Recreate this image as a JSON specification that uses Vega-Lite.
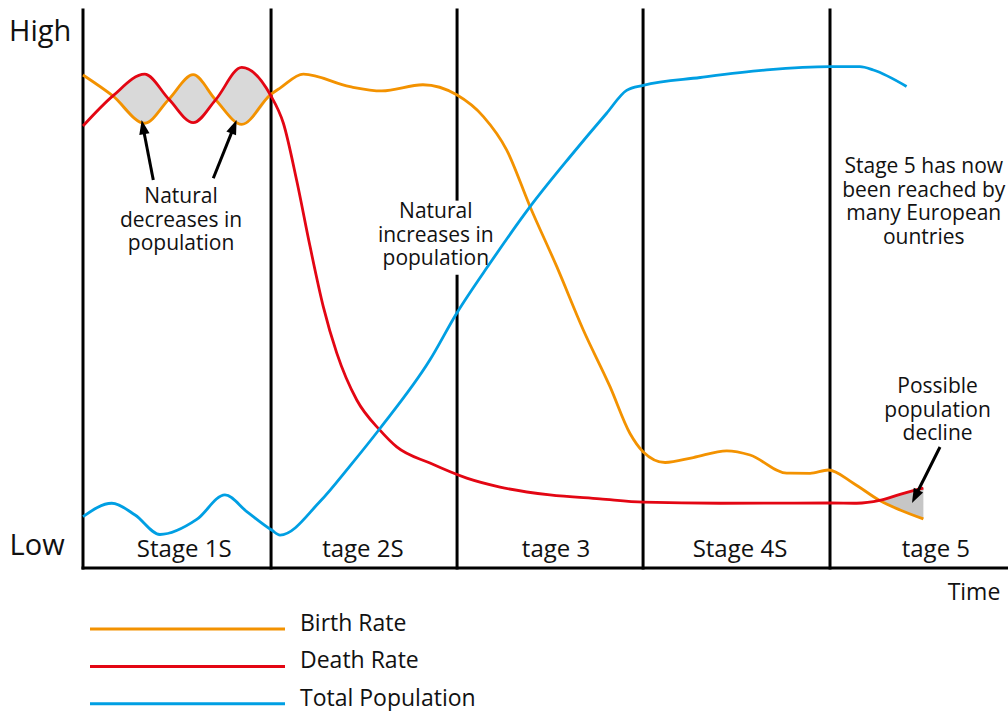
{
  "$schema": "https://vega.github.io/schema/vega-lite/v6.json",
  "width": 1008,
  "height": 711,
  "padding": 0,
  "autosize": {"type": "none"},
  "background": "white",
  "config": {
    "view": {"stroke": null},
    "text": {"font": "Open Sans", "color": "#111111"},
    "legend": {
      "orient": "none",
      "legendX": 176,
      "legendY": 612.5,
      "padding": 0,
      "title": null,
      "symbolType": "M-9.75,0.5H9.75",
      "symbolSize": 400,
      "symbolStrokeWidth": 3,
      "labelFont": "Open Sans",
      "labelFontSize": 23,
      "labelColor": "#111111",
      "labelOffset": 101,
      "rowPadding": 13.4,
      "labelLimit": 400
    }
  },
  "datasets": {
    "curves": [
      {"series": "Birth Rate", "t": 0, "level": 88.35},
      {"series": "Birth Rate", "t": 16, "level": 84.6},
      {"series": "Birth Rate", "t": 33, "level": 79.7},
      {"series": "Birth Rate", "t": 46, "level": 84.0},
      {"series": "Birth Rate", "t": 59, "level": 88.4},
      {"series": "Birth Rate", "t": 71, "level": 83.9},
      {"series": "Birth Rate", "t": 85, "level": 79.5},
      {"series": "Birth Rate", "t": 100.3, "level": 84.8},
      {"series": "Birth Rate", "t": 105.5, "level": 86.0},
      {"series": "Birth Rate", "t": 118, "level": 88.5},
      {"series": "Birth Rate", "t": 143, "level": 86.25},
      {"series": "Birth Rate", "t": 160, "level": 85.5},
      {"series": "Birth Rate", "t": 182, "level": 86.6},
      {"series": "Birth Rate", "t": 200.1, "level": 84.8},
      {"series": "Birth Rate", "t": 214.4, "level": 80.9},
      {"series": "Birth Rate", "t": 226.9, "level": 74.9},
      {"series": "Birth Rate", "t": 239.4, "level": 64.75},
      {"series": "Birth Rate", "t": 253.7, "level": 54.0},
      {"series": "Birth Rate", "t": 267.9, "level": 42.65},
      {"series": "Birth Rate", "t": 282.2, "level": 32.5},
      {"series": "Birth Rate", "t": 292.9, "level": 24.1},
      {"series": "Birth Rate", "t": 300, "level": 20.8},
      {"series": "Birth Rate", "t": 311.7, "level": 18.9},
      {"series": "Birth Rate", "t": 326.8, "level": 19.8},
      {"series": "Birth Rate", "t": 344.7, "level": 21.0},
      {"series": "Birth Rate", "t": 357.2, "level": 20.25},
      {"series": "Birth Rate", "t": 376.8, "level": 17.0},
      {"series": "Birth Rate", "t": 389.3, "level": 16.97},
      {"series": "Birth Rate", "t": 399.1, "level": 17.56},
      {"series": "Birth Rate", "t": 412.5, "level": 15.2},
      {"series": "Birth Rate", "t": 426.6, "level": 12.1},
      {"series": "Birth Rate", "t": 437.5, "level": 10.4},
      {"series": "Birth Rate", "t": 450, "level": 8.8},
      {"series": "Death Rate", "t": 0, "level": 79.2},
      {"series": "Death Rate", "t": 16, "level": 84.6},
      {"series": "Death Rate", "t": 33, "level": 88.5},
      {"series": "Death Rate", "t": 46, "level": 84.0},
      {"series": "Death Rate", "t": 59, "level": 79.8},
      {"series": "Death Rate", "t": 71, "level": 83.9},
      {"series": "Death Rate", "t": 85, "level": 89.7},
      {"series": "Death Rate", "t": 100.3, "level": 84.8},
      {"series": "Death Rate", "t": 107.3, "level": 79.7},
      {"series": "Death Rate", "t": 114.4, "level": 69.5},
      {"series": "Death Rate", "t": 121.6, "level": 57.6},
      {"series": "Death Rate", "t": 128.7, "level": 46.8},
      {"series": "Death Rate", "t": 135.9, "level": 38.5},
      {"series": "Death Rate", "t": 146.6, "level": 30.1},
      {"series": "Death Rate", "t": 159, "level": 24.7},
      {"series": "Death Rate", "t": 168, "level": 21.7},
      {"series": "Death Rate", "t": 185.8, "level": 18.8},
      {"series": "Death Rate", "t": 205.5, "level": 16.1},
      {"series": "Death Rate", "t": 223.3, "level": 14.5},
      {"series": "Death Rate", "t": 250, "level": 13.1},
      {"series": "Death Rate", "t": 276.8, "level": 12.4},
      {"series": "Death Rate", "t": 300, "level": 11.8},
      {"series": "Death Rate", "t": 341.2, "level": 11.6},
      {"series": "Death Rate", "t": 400, "level": 11.65},
      {"series": "Death Rate", "t": 414.3, "level": 11.6},
      {"series": "Death Rate", "t": 426.6, "level": 12.1},
      {"series": "Death Rate", "t": 437.5, "level": 13.2},
      {"series": "Death Rate", "t": 450, "level": 14.3},
      {"series": "Total Population", "t": 0, "level": 9.2},
      {"series": "Total Population", "t": 15.4, "level": 11.6},
      {"series": "Total Population", "t": 27.9, "level": 9.5},
      {"series": "Total Population", "t": 41.2, "level": 6.0},
      {"series": "Total Population", "t": 60.9, "level": 8.7},
      {"series": "Total Population", "t": 76, "level": 13.1},
      {"series": "Total Population", "t": 87.7, "level": 10.1},
      {"series": "Total Population", "t": 101, "level": 6.8},
      {"series": "Total Population", "t": 105.5, "level": 5.9},
      {"series": "Total Population", "t": 126.9, "level": 11.9},
      {"series": "Total Population", "t": 143, "level": 18.3},
      {"series": "Total Population", "t": 159, "level": 25.0},
      {"series": "Total Population", "t": 185.8, "level": 37.3},
      {"series": "Total Population", "t": 200.1, "level": 45.65},
      {"series": "Total Population", "t": 217.9, "level": 54.6},
      {"series": "Total Population", "t": 239.4, "level": 64.75},
      {"series": "Total Population", "t": 260.8, "level": 73.7},
      {"series": "Total Population", "t": 280.4, "level": 81.5},
      {"series": "Total Population", "t": 291.1, "level": 85.6},
      {"series": "Total Population", "t": 300, "level": 86.5},
      {"series": "Total Population", "t": 330.5, "level": 87.9},
      {"series": "Total Population", "t": 366.1, "level": 89.25},
      {"series": "Total Population", "t": 400, "level": 89.84},
      {"series": "Total Population", "t": 416, "level": 89.84},
      {"series": "Total Population", "t": 423.2, "level": 89.25},
      {"series": "Total Population", "t": 441, "level": 86.3}
    ],
    "gaps": [
      {"grp": "stage1", "t": 16, "birth": 84.6, "death": 84.6},
      {"grp": "stage1", "t": 33, "birth": 79.7, "death": 88.5},
      {"grp": "stage1", "t": 46, "birth": 84.0, "death": 84.0},
      {"grp": "stage1", "t": 59, "birth": 88.4, "death": 79.8},
      {"grp": "stage1", "t": 71, "birth": 83.9, "death": 83.9},
      {"grp": "stage1", "t": 85, "birth": 79.5, "death": 89.7},
      {"grp": "stage1", "t": 100.3, "birth": 84.8, "death": 84.8},
      {"grp": "stage5", "t": 426.6, "birth": 12.1, "death": 12.1},
      {"grp": "stage5", "t": 437.5, "birth": 10.4, "death": 13.2},
      {"grp": "stage5", "t": 450, "birth": 8.8, "death": 14.3}
    ],
    "frame": [
      {"t": 0, "t2": 0, "level": 0, "level2": 100},
      {"t": 100.7, "t2": 100.7, "level": 0, "level2": 100},
      {"t": 200.3, "t2": 200.3, "level": 0, "level2": 52.3},
      {"t": 200.3, "t2": 200.3, "level": 66.1, "level2": 100},
      {"t": 299.9, "t2": 299.9, "level": 0, "level2": 100},
      {"t": 400, "t2": 400, "level": 0, "level2": 100},
      {"t": 0, "t2": 495, "level": 0, "level2": 0}
    ],
    "arrows": [
      {"t": 37.64, "level": 69.53, "t2": 32.2, "level2": 78.9, "ht": 31.43, "hl": 80.29, "heading": 349.1},
      {"t": 69.77, "level": 69.84, "t2": 80.7, "level2": 78.96, "ht": 82.25, "hl": 80.29, "heading": 21.9},
      {"t": 458.9, "level": 21.68, "t2": 445.8, "level2": 12.94, "ht": 443.9, "hl": 11.65, "heading": 206.6}
    ],
    "notes": [
      {"kind": "big", "t": -39.6, "level": 94.44, "text": "High"},
      {"kind": "big", "t": -39.3, "level": 2.33, "text": "Low"},
      {"kind": "time", "t": 477.1, "level": -5.73, "text": "Time"},
      {"kind": "stage", "t": 54.2, "level": 1.97, "text": "Stage 1S"},
      {"kind": "stage", "t": 149.9, "level": 1.97, "text": "tage 2S"},
      {"kind": "stage", "t": 253.3, "level": 1.97, "text": "tage 3"},
      {"kind": "stage", "t": 351.8, "level": 1.97, "text": "Stage 4S"},
      {"kind": "stage", "t": 456.7, "level": 1.97, "text": "tage 5"},
      {"kind": "note", "t": 52.5, "level": 65.36, "text": ["Natural", "decreases in", "population"]},
      {"kind": "note", "t": 188.9, "level": 62.67, "text": ["Natural", "increases in", "population"]},
      {"kind": "note", "t": 450.2, "level": 70.73, "text": ["Stage 5 has now", "been reached by", "many European", "ountries"]},
      {"kind": "note", "t": 457.6, "level": 31.31, "text": ["Possible", "population", "decline"]}
    ]
  },
  "layer": [
    {
      "data": {"name": "gaps"},
      "mark": {"type": "area", "interpolate": "monotone"},
      "encoding": {
        "x": {"field": "t", "type": "quantitative", "scale": {"domain": [-44.44, 495.31], "nice": false, "zero": false}, "axis": null},
        "y": {"field": "birth", "type": "quantitative", "scale": {"domain": [-25.63, 101.79], "nice": false, "zero": false}, "axis": null},
        "y2": {"field": "death"},
        "detail": {"field": "grp"},
        "fill": {"field": "grp", "type": "nominal", "scale": {"domain": ["stage1", "stage5"], "range": ["#d9d9d9", "#c6c6c6"]}, "legend": null}
      }
    },
    {
      "data": {"name": "frame"},
      "mark": {"type": "rule", "color": "#000000", "strokeWidth": 3, "strokeCap": "square"},
      "encoding": {
        "x": {"field": "t", "type": "quantitative", "scale": {"domain": [-44.44, 495.31], "nice": false, "zero": false}, "axis": null},
        "x2": {"field": "t2"},
        "y": {"field": "level", "type": "quantitative", "scale": {"domain": [-25.63, 101.79], "nice": false, "zero": false}, "axis": null},
        "y2": {"field": "level2"}
      }
    },
    {
      "data": {"name": "curves"},
      "mark": {"type": "line", "interpolate": "monotone", "strokeWidth": 2.8},
      "encoding": {
        "x": {"field": "t", "type": "quantitative", "scale": {"domain": [-44.44, 495.31], "nice": false, "zero": false}, "axis": null},
        "y": {"field": "level", "type": "quantitative", "scale": {"domain": [-25.63, 101.79], "nice": false, "zero": false}, "axis": null},
        "stroke": {"field": "series", "type": "nominal", "scale": {"domain": ["Birth Rate", "Death Rate", "Total Population"], "range": ["#F39200", "#E30613", "#009FE3"]}},
        "order": {"field": "t", "type": "quantitative"}
      }
    },
    {
      "data": {"name": "arrows"},
      "mark": {"type": "rule", "color": "#000000", "strokeWidth": 3},
      "encoding": {
        "x": {"field": "t", "type": "quantitative", "scale": {"domain": [-44.44, 495.31], "nice": false, "zero": false}, "axis": null},
        "x2": {"field": "t2"},
        "y": {"field": "level", "type": "quantitative", "scale": {"domain": [-25.63, 101.79], "nice": false, "zero": false}, "axis": null},
        "y2": {"field": "level2"}
      }
    },
    {
      "data": {"name": "arrows"},
      "mark": {"type": "point", "shape": "M0,0L0.65,1.8L-0.65,1.8Z", "filled": true, "size": 256, "color": "#000000", "opacity": 1},
      "encoding": {
        "x": {"field": "ht", "type": "quantitative", "scale": {"domain": [-44.44, 495.31], "nice": false, "zero": false}, "axis": null},
        "y": {"field": "hl", "type": "quantitative", "scale": {"domain": [-25.63, 101.79], "nice": false, "zero": false}, "axis": null},
        "angle": {"field": "heading", "type": "quantitative", "scale": null}
      }
    },
    {
      "data": {"name": "notes"},
      "transform": [{"filter": "datum.kind === 'big'"}],
      "mark": {"type": "text", "fontSize": 29, "align": "left", "baseline": "alphabetic"},
      "encoding": {
        "x": {"field": "t", "type": "quantitative", "scale": {"domain": [-44.44, 495.31], "nice": false, "zero": false}, "axis": null},
        "y": {"field": "level", "type": "quantitative", "scale": {"domain": [-25.63, 101.79], "nice": false, "zero": false}, "axis": null},
        "text": {"field": "text"}
      }
    },
    {
      "data": {"name": "notes"},
      "transform": [{"filter": "datum.kind === 'time'"}],
      "mark": {"type": "text", "fontSize": 23, "align": "center", "baseline": "alphabetic"},
      "encoding": {
        "x": {"field": "t", "type": "quantitative", "scale": {"domain": [-44.44, 495.31], "nice": false, "zero": false}, "axis": null},
        "y": {"field": "level", "type": "quantitative", "scale": {"domain": [-25.63, 101.79], "nice": false, "zero": false}, "axis": null},
        "text": {"field": "text"}
      }
    },
    {
      "data": {"name": "notes"},
      "transform": [{"filter": "datum.kind === 'stage'"}],
      "mark": {"type": "text", "fontSize": 24, "align": "center", "baseline": "alphabetic"},
      "encoding": {
        "x": {"field": "t", "type": "quantitative", "scale": {"domain": [-44.44, 495.31], "nice": false, "zero": false}, "axis": null},
        "y": {"field": "level", "type": "quantitative", "scale": {"domain": [-25.63, 101.79], "nice": false, "zero": false}, "axis": null},
        "text": {"field": "text"}
      }
    },
    {
      "data": {"name": "notes"},
      "transform": [{"filter": "datum.kind === 'note'"}],
      "mark": {"type": "text", "fontSize": 21, "lineHeight": 23.4, "align": "center", "baseline": "alphabetic"},
      "encoding": {
        "x": {"field": "t", "type": "quantitative", "scale": {"domain": [-44.44, 495.31], "nice": false, "zero": false}, "axis": null},
        "y": {"field": "level", "type": "quantitative", "scale": {"domain": [-25.63, 101.79], "nice": false, "zero": false}, "axis": null},
        "text": {"field": "text"}
      }
    }
  ]
}
